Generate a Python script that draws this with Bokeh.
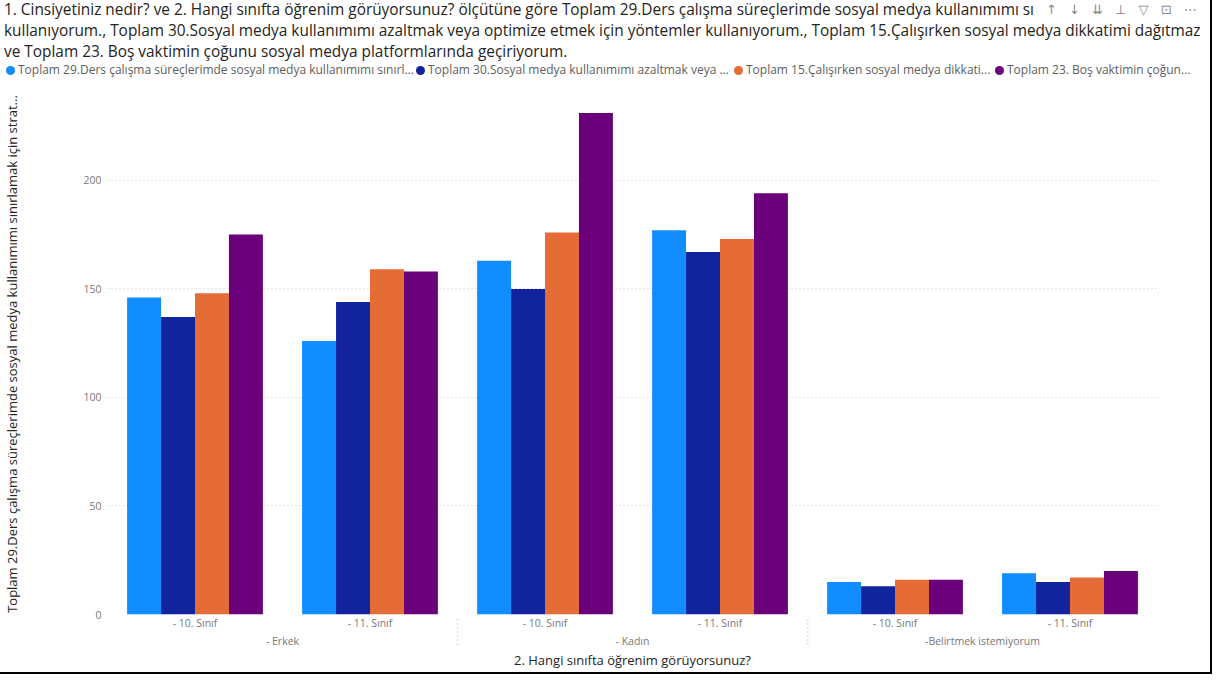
from bokeh.plotting import figure
from bokeh.models import FactorRange, Range1d, FixedTicker, Div
from bokeh.layouts import column
from bokeh.embed import file_html
from bokeh.resources import INLINE
from bokeh.transform import dodge

# ---------------- data ----------------
genders = ["- Erkek", "- Kadın", "-Belirtmek istemiyorum"]
grades = ["- 10. Sınıf", "- 11. Sınıf"]

t29 = [146, 126, 163, 177, 15, 19]
t30 = [137, 144, 150, 167, 13, 15]
t15 = [148, 159, 176, 173, 16, 17]
t23 = [175, 158, 231, 194, 16, 20]

legend_labels = [
    "Toplam 29.Ders çalışma süreçlerimde sosyal medya kullanımımı sınırl...",
    "Toplam 30.Sosyal medya kullanımımı azaltmak veya ...",
    "Toplam 15.Çalışırken sosyal medya dikkati...",
    "Toplam 23. Boş vaktimin çoğun...",
]
title_lines = [
    "1. Cinsiyetiniz nedir? ve 2. Hangi sınıfta öğrenim görüyorsunuz? ölçütüne göre Toplam 29.Ders çalışma süreçlerimde sosyal medya kullanımımı sı",
    "kullanıyorum., Toplam 30.Sosyal medya kullanımımı azaltmak veya optimize etmek için yöntemler kullanıyorum., Toplam 15.Çalışırken sosyal medya dikkatimi dağıtmaz",
    "ve Toplam 23. Boş vaktimin çoğunu sosyal medya platformlarında geçiriyorum.",
]
header_icons = "↑ ↓ ⇊ ⊥ ▽ ⊡ ⋯"
y_title = "Toplam 29.Ders çalışma süreçlerimde sosyal medya kullanımımı sınırlamak için strat..."
x_title = "2. Hangi sınıfta öğrenim görüyorsunuz?"
y_ticks = [0, 50, 100, 150, 200]

colors = ["#118DFF", "#12239E", "#E66C37", "#6B007B"]
FONT = "Open Sans"

factors = [(g, c) for g in genders for c in grades]
data = dict(x=factors, t29=t29, t30=t30, t15=t15, t23=t23)

W, H = 1210, 672
HH = 84          # header height
FL = 107         # frame left of main plot

# ---------------- header (title + legend) ----------------
legend_x = [11, 421, 739, 1000]
parts = [f'<div style="position:relative;width:{W}px;height:{HH}px;overflow:hidden;'
         f'font-family:\'{FONT}\';background:#ffffff;">']
parts.append('<div style="position:absolute;left:4px;top:-1.5px;font-size:15.4px;'
             'line-height:21px;color:#252423;white-space:nowrap;">'
             + "<br>".join(title_lines) + '</div>')
parts.append('<div style="position:absolute;left:1046px;top:0px;height:19px;line-height:19px;'
             'font-family:\'DejaVu Sans\';word-spacing:8px;'
             f'font-size:13px;color:#8A8886;white-space:nowrap;">{header_icons}</div>')
for lab, col, cx in zip(legend_labels, colors, legend_x):
    parts.append(f'<div style="position:absolute;left:{cx - 5}px;top:62px;height:16px;'
                 'display:flex;align-items:center;white-space:nowrap;font-size:12px;'
                 'color:#605E5C;">'
                 f'<span style="display:inline-block;width:9px;height:9px;border-radius:50%;'
                 f'background:{col};margin-right:3px;"></span>{lab}</div>')
parts.append('</div>')
header = Div(text="".join(parts), width=W, height=HH, margin=0)

# ---------------- main chart ----------------
p = figure(x_range=FactorRange(*factors, group_padding=0, factor_padding=0, range_padding=0),
           y_range=Range1d(0, 240), width=W, height=H - HH,
           min_border_left=FL, min_border_right=W - FL - 1050,
           min_border_top=9, min_border_bottom=58,
           output_backend="svg", toolbar_location=None)
p.outline_line_color = None

cols = ["t29", "t30", "t15", "t23"]
offs = [-0.291, -0.097, 0.097, 0.291]
for c, o, col in zip(cols, offs, colors):
    p.vbar(x=dodge("x", o, range=p.x_range), top=c, width=0.194, source=data,
           fill_color=col, line_color=None)

ya = p.yaxis[0]
ya.ticker = FixedTicker(ticks=y_ticks)
ya.axis_line_color = None
ya.major_tick_line_color = None
ya.minor_tick_line_color = None
ya.major_tick_out = 0
ya.major_tick_in = 0
ya.major_label_text_font = FONT
ya.major_label_text_font_size = "10.5px"
ya.major_label_text_color = "#777777"
ya.major_label_standoff = 6
ya.axis_label = y_title
ya.axis_label_text_font = FONT
ya.axis_label_text_font_size = "13px"
ya.axis_label_text_font_style = "normal"
ya.axis_label_text_color = "#252423"
ya.axis_label_standoff = 59

xa = p.xaxis[0]
xa.axis_line_color = None
xa.major_tick_line_color = None
xa.minor_tick_line_color = None
xa.major_tick_out = 0
xa.major_tick_in = 0
xa.major_label_text_font = FONT
xa.major_label_text_font_size = "10.5px"
xa.major_label_text_color = "#777777"
xa.major_label_standoff = 1
xa.group_text_font = FONT
xa.group_text_font_size = "10.5px"
xa.group_text_color = "#777777"
xa.group_text_font_style = "normal"
xa.separator_line_color = "#D0D0D0"
xa.separator_line_dash = "1 3"
xa.axis_label = x_title
xa.axis_label_text_font = FONT
xa.axis_label_text_font_size = "13px"
xa.axis_label_text_font_style = "normal"
xa.axis_label_text_color = "#252423"
xa.axis_label_standoff = 0

p.xgrid.grid_line_color = None
p.ygrid.grid_line_color = "#C8C6C4"
p.ygrid.grid_line_dash = "1 3"
p.ygrid.ticker = FixedTicker(ticks=y_ticks)

layout = column(header, p, spacing=0)
layout.styles = {"outline": "2px solid #000000"}

open("out.html", "w").write(file_html(layout, INLINE))
